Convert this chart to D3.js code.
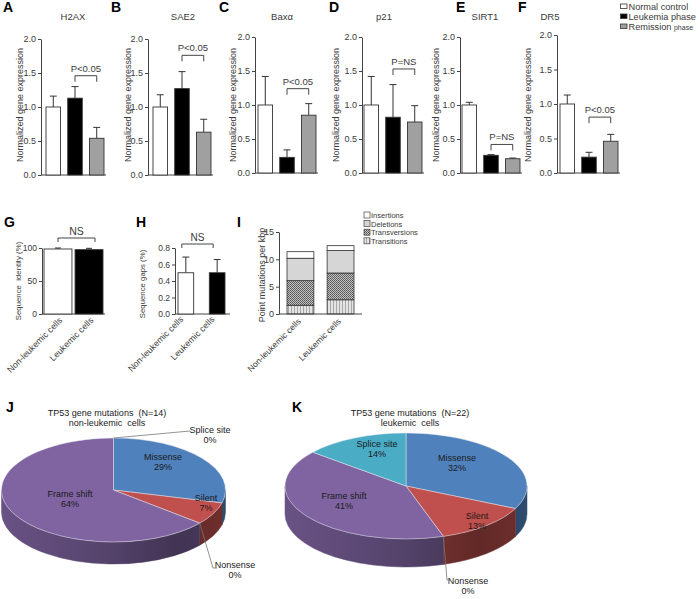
<!DOCTYPE html>
<html><head><meta charset="utf-8">
<script src="https://cdn.jsdelivr.net/npm/d3@7/dist/d3.min.js"></script>
<style>body{margin:0;background:#fff} svg{display:block;font-family:"Liberation Sans",Arial,sans-serif} text{white-space:pre}</style>
</head><body><svg id="c" width="700" height="599"></svg>
<script>
// ---------------- DATA ----------------
const genes = ["H2AX","SAE2","Baxα","p21","SIRT1","DR5"];
const groups = ["Normal control","Leukemia phase","Remission phase"];
const normalMean = [1.0,1.0,1.0,1.0,1.0,1.0];
const normalErr = [0.16,0.18,0.42,0.42,0.04,0.13];
const leukemiaMean = [1.13,1.27,0.23,0.82,0.26,0.23];
const leukemiaErr = [0.17,0.25,0.11,0.48,0.01,0.07];
const remissionMean = [0.54,0.63,0.85,0.75,0.21,0.46];
const remissionErr = [0.16,0.19,0.17,0.24,0.01,0.10];
const pText = ["P<0.05","P<0.05","P<0.05","P=NS","P=NS","P<0.05"];
const pLevel = [1.46,1.76,1.24,1.53,0.42,0.81];
const exprTicks = [0,0.5,1.0,1.5,2.0];

const cellTypes = ["Non-leukemic cells","Leukemic cells"];
const identityMean = [98.5,97.5];
const identityErr = [1.5,2.0];
const identityTicks = [0,50,100];
const gapsMean = [0.50,0.50];
const gapsErr = [0.19,0.16];
const gapsTicks = [0,0.2,0.4,0.6,0.8];
const mutationTypes = ["Transitions","Transversions","Deletions","Insertions"];
const transitions = [1.6,2.6];
const transversions = [4.5,4.9];
const deletions = [4.1,4.1];
const insertions = [1.2,0.9];
const mutationTicks = [0,5,10,15];

const pieCategories = ["Missense","Silent","Nonsense","Frame shift","Splice site"];
const nonLeukemicPct = [29,7,0,64,0];
const leukemicPct = [32,13,0,41,14];

// ---------------- LAYOUT / STYLE ----------------
const svg = d3.select("#c");
svg.append("rect").attr("width",700).attr("height",599).attr("fill","#fff");
const AX = "#444", TX = "#3a3a3a";
const groupFill = ["#ffffff","#000000","#a0a0a0"];
const defs = svg.append("defs");

function styleAxis(sel, fs){
  sel.select(".domain").attr("stroke",AX).attr("stroke-width",1);
  sel.selectAll(".tick line").attr("stroke",AX);
  sel.selectAll(".tick text").attr("fill",TX).attr("font-size",fs).attr("font-family","Liberation Sans, Arial, sans-serif");
}
function letter(t,x,y){
  svg.append("text").attr("x",x).attr("y",y).attr("font-size",14).attr("font-weight","bold").attr("fill","#000").text(t);
}
function yLabel(t,x,yc,fs){
  svg.append("text").attr("transform",`translate(${x},${yc}) rotate(-90)`).attr("text-anchor","middle")
    .attr("dy","0.35em").attr("font-size",fs).attr("fill",TX).text(t);
}
function bracket(x1,x2,yy,drop,label,fs,gap){
  svg.append("path").attr("d",`M${x1},${yy+drop}V${yy}H${x2}V${yy+drop}`).attr("fill","none").attr("stroke",AX).attr("stroke-width",1);
  svg.append("text").attr("x",(x1+x2)/2).attr("y",yy-gap).attr("text-anchor","middle").attr("font-size",fs).attr("fill",TX).text(label);
}
function errBar(cx,y0,y1,cap){
  svg.append("path").attr("d",`M${cx},${y0}V${y1}M${cx-cap},${y1}H${cx+cap}`).attr("stroke","#333").attr("stroke-width",1).attr("fill","none");
}

// ---------------- PANELS A-F ----------------
const barLayout = [
  {L:"A",lx:3,  ax:41, top:39,bottom:175,off:5,tx:73, yl:20},
  {L:"B",lx:111,ax:148,top:39,bottom:175,off:5,tx:183,yl:128},
  {L:"C",lx:219,ax:255,top:37,bottom:173,off:3,tx:282,yl:233},
  {L:"D",lx:329,ax:362,top:37,bottom:173,off:2,tx:384,yl:336},
  {L:"E",lx:456,ax:460,top:37,bottom:173,off:2,tx:485,yl:436},
  {L:"F",lx:518,ax:557,top:35,bottom:173,off:3,tx:550,yl:528}
];
genes.forEach((gene,i)=>{
  const c = barLayout[i];
  const y = d3.scaleLinear().domain([0,2]).range([c.bottom,c.top]);
  const x = d3.scaleBand().domain(groups).range([c.ax+c.off,c.ax+c.off+58]).paddingInner(0.33);
  const means = [normalMean[i],leukemiaMean[i],remissionMean[i]];
  const errs = [normalErr[i],leukemiaErr[i],remissionErr[i]];
  letter(c.L,c.lx,12);
  svg.append("text").attr("x",c.tx).attr("y",20).attr("text-anchor","middle").attr("font-size",9.5).attr("fill",TX).text(gene);
  const ag = svg.append("g").attr("transform",`translate(${c.ax},0)`)
    .call(d3.axisLeft(y).tickValues(exprTicks).tickFormat(d3.format(".1f")).tickSize(3).tickSizeOuter(0).tickPadding(2));
  styleAxis(ag,9);
  svg.append("line").attr("x1",c.ax).attr("x2",c.ax+c.off+60).attr("y1",y(0)).attr("y2",y(0)).attr("stroke",AX);
  groups.forEach((gr,j)=>{
    const cx = x(gr)+x.bandwidth()/2;
    errBar(cx,y(means[j]),y(means[j]+errs[j]),3.5);
    svg.append("rect").attr("x",x(gr)).attr("y",y(means[j])).attr("width",x.bandwidth()).attr("height",y(0)-y(means[j]))
      .attr("fill",groupFill[j]).attr("stroke","#333").attr("stroke-width",0.9);
  });
  bracket(x(groups[1])+x.bandwidth()/2, x(groups[2])+x.bandwidth()/2, y(pLevel[i]), 6, pText[i], 9.5, 4);
  yLabel("Normalized gene expression",c.yl,105,9);
});
// legend top-right
groups.forEach((gr,j)=>{
  const yy = 6 + j*10;
  svg.append("rect").attr("x",620.5).attr("y",yy-2).attr("width",6.5).attr("height",4.5).attr("fill",groupFill[j]).attr("stroke","#333").attr("stroke-width",0.8);
  const t = svg.append("text").attr("x",628.5).attr("y",yy+3.5).attr("font-size",9.2).attr("fill",TX);
  if(gr==="Remission phase"){ t.append("tspan").text("Remission "); t.append("tspan").attr("font-size",7).text("phase"); }
  else t.text(gr);
});

// ---------------- PANEL G ----------------
function xLabels(x,offs,yy,fs){
  cellTypes.forEach((ct,j)=>{
    const cx = x(ct)+x.bandwidth()/2+offs;
    svg.append("text").attr("transform",`translate(${cx},${yy}) rotate(-45)`).attr("text-anchor","end").attr("font-size",fs).attr("fill",TX).text(ct);
  });
}
{
  letter("G",4,227);
  const y = d3.scaleLinear().domain([0,100]).range([314,248]);
  const x = d3.scaleBand().domain(cellTypes).range([44,103]).paddingInner(0.1);
  const ag = svg.append("g").attr("transform","translate(42,0)").call(d3.axisLeft(y).tickValues(identityTicks).tickFormat(d3.format("d")).tickSize(3).tickSizeOuter(0).tickPadding(2));
  styleAxis(ag,8.5);
  svg.append("line").attr("x1",42).attr("x2",105).attr("y1",y(0)).attr("y2",y(0)).attr("stroke",AX);
  cellTypes.forEach((ct,j)=>{
    const cx = x(ct)+x.bandwidth()/2;
    errBar(cx,y(identityMean[j]),y(identityMean[j]+identityErr[j]),3);
    svg.append("rect").attr("x",x(ct)).attr("y",y(identityMean[j])).attr("width",x.bandwidth()).attr("height",y(0)-y(identityMean[j]))
      .attr("fill",groupFill[j]).attr("stroke","#333").attr("stroke-width",0.9);
  });
  bracket(x(cellTypes[0])+x.bandwidth()/2, x(cellTypes[1])+x.bandwidth()/2+6, 238, 4, "NS", 10.5, 3);
  yLabel("Sequence  identity (%)",18,281,7.8);
  xLabels(x,5,321,8.8);
}
// ---------------- PANEL H ----------------
{
  letter("H",136,227);
  const y = d3.scaleLinear().domain([0,0.8]).range([314,248]);
  const x = d3.scaleBand().domain(cellTypes).range([178,225]).paddingInner(0.5);
  const ag = svg.append("g").attr("transform","translate(175,0)").call(d3.axisLeft(y).tickValues(gapsTicks).tickFormat(d3.format(".1f")).tickSize(3).tickSizeOuter(0).tickPadding(2));
  styleAxis(ag,8.5);
  svg.append("line").attr("x1",175).attr("x2",230).attr("y1",y(0)).attr("y2",y(0)).attr("stroke",AX);
  cellTypes.forEach((ct,j)=>{
    const cx = x(ct)+x.bandwidth()/2;
    errBar(cx,y(gapsMean[j]),y(gapsMean[j]+gapsErr[j]),3.5);
    svg.append("rect").attr("x",x(ct)).attr("y",y(gapsMean[j])).attr("width",x.bandwidth()).attr("height",y(0)-y(gapsMean[j]))
      .attr("fill",groupFill[j]).attr("stroke","#333").attr("stroke-width",0.9);
  });
  bracket(x(cellTypes[0])+x.bandwidth()/2-4, x(cellTypes[1])+x.bandwidth()/2-4, 244, 4, "NS", 10, 3);
  yLabel("Sequence gaps (%)",142,284,7.8);
  xLabels(x,-2,320,8.8);
}
// ---------------- PANEL I ----------------
{
  letter("I",237,227);
  const p1 = defs.append("pattern").attr("id","patTransitions").attr("patternUnits","userSpaceOnUse").attr("width",3).attr("height",3);
  p1.append("rect").attr("width",3).attr("height",3).attr("fill","#e4e4e4");
  p1.append("rect").attr("width",1).attr("height",3).attr("fill","#a8a8a8");
  const p2 = defs.append("pattern").attr("id","patTransversions").attr("patternUnits","userSpaceOnUse").attr("width",2).attr("height",2);
  p2.append("rect").attr("width",2).attr("height",2).attr("fill","#c4c4c4");
  p2.append("rect").attr("width",1).attr("height",1).attr("fill","#555");
  p2.append("rect").attr("x",1).attr("y",1).attr("width",1).attr("height",1).attr("fill","#666");
  const typeFill = ["url(#patTransitions)","url(#patTransversions)","#d6d6d6","#ffffff"];
  const y = d3.scaleLinear().domain([0,15]).range([314,232]);
  const x = d3.scaleBand().domain(cellTypes).range([287,354]).paddingInner(0.33);
  const rows = cellTypes.map((ct,j)=>({ct, Transitions:transitions[j], Transversions:transversions[j], Deletions:deletions[j], Insertions:insertions[j]}));
  const stacked = d3.stack().keys(mutationTypes)(rows);
  stacked.forEach((layer,k)=>{
    layer.forEach(d=>{
      svg.append("rect").attr("x",x(d.data.ct)).attr("y",y(d[1])).attr("width",x.bandwidth()).attr("height",y(d[0])-y(d[1]))
        .attr("fill",typeFill[k]).attr("stroke","#333").attr("stroke-width",0.8);
    });
  });
  const ag = svg.append("g").attr("transform","translate(279,0)").call(d3.axisLeft(y).tickValues(mutationTicks).tickFormat(d3.format("d")).tickSize(3).tickSizeOuter(0).tickPadding(2));
  styleAxis(ag,9);
  svg.append("line").attr("x1",279).attr("x2",362).attr("y1",y(0)).attr("y2",y(0)).attr("stroke",AX);
  yLabel("Point mutations per kbp",262,275,9);
  xLabels(x,1,322,8.5);
  mutationTypes.slice().reverse().forEach((t,k)=>{
    const yy = 215 + k*8.6;
    const fi = typeFill[mutationTypes.length-1-k];
    svg.append("rect").attr("x",364).attr("y",yy-3).attr("width",6).attr("height",6).attr("fill",fi).attr("stroke","#444").attr("stroke-width",0.7);
    svg.append("text").attr("x",371).attr("y",yy+3).attr("font-size",7.5).attr("fill",TX).text(t);
  });
}

// ---------------- PIES J, K ----------------
const pieColors = ["#4f81bd","#c0504d","#9bbb59","#8064a2","#4bacc6"];
function drawPie(id, values, cfg){
  const {cx,cy,rx,ry,depth} = cfg;
  const arcs = d3.pie().sort(null).value(d=>d)(values);
  const pt = (a,dy=0)=>[cx+rx*Math.sin(a), cy-ry*Math.cos(a)+dy];
  const g = svg.append("g");
  pieColors.forEach((c,i)=>{
    const gr = defs.append("linearGradient").attr("id",`${id}side${i}`).attr("gradientUnits","userSpaceOnUse")
      .attr("x1",cx-rx).attr("x2",cx+rx).attr("y1",0).attr("y2",0);
    const col = d3.color(c);
    gr.append("stop").attr("offset",0).attr("stop-color",col.darker(0.55));
    gr.append("stop").attr("offset",0.45).attr("stop-color",col.darker(1.1));
    gr.append("stop").attr("offset",0.8).attr("stop-color",col.darker(1.9));
    gr.append("stop").attr("offset",1).attr("stop-color",col.darker(1.5));
  });
  arcs.forEach((a,i)=>{
    if(a.value<=0) return;
    const s = Math.max(a.startAngle,Math.PI/2), e = Math.min(a.endAngle,3*Math.PI/2);
    if(e<=s) return;
    const p0=pt(s),p1=pt(e),q1=pt(e,depth),q0=pt(s,depth);
    g.append("path").attr("d",`M${p0}A${rx},${ry} 0 0 1 ${p1}L${q1}A${rx},${ry} 0 0 0 ${q0}Z`)
      .attr("fill",`url(#${id}side${i})`).attr("stroke",`url(#${id}side${i})`).attr("stroke-width",0.5);
  });
  arcs.forEach((a,i)=>{
    if(a.value<=0) return;
    const p0=pt(a.startAngle),p1=pt(a.endAngle);
    const large = (a.endAngle-a.startAngle)>Math.PI?1:0;
    g.append("path").attr("d",`M${cx},${cy}L${p0}A${rx},${ry} 0 ${large} 1 ${p1}Z`)
      .attr("fill",pieColors[i]).attr("stroke","#e8e8f0").attr("stroke-width",0.6).attr("stroke-opacity",0.8);
  });
  arcs.forEach((a,i)=>{
    const L = cfg.labels[i];
    const t = svg.append("text").attr("text-anchor","middle").attr("font-size",9).attr("fill","#1a1a1a");
    t.append("tspan").attr("x",L[0]).attr("y",L[1]+3).text(pieCategories[i]);
    t.append("tspan").attr("x",L[0]).attr("y",L[1]+13).text(Math.round(a.value)+"%");
    if(a.value<=0){
      const p = pt(a.startAngle);
      const lead = cfg.leaders[i];
      svg.append("path").attr("d",`M${p}L${lead.map(q=>q.join(",")).join("L")}`).attr("fill","none").attr("stroke","#777").attr("stroke-width",0.8);
    }
  });
  svg.append("text").attr("x",cfg.title[0]).attr("y",cfg.title[1]).attr("text-anchor","middle").attr("font-size",9).attr("fill","#222").text(cfg.titleText[0]);
  svg.append("text").attr("x",cfg.title[0]).attr("y",cfg.title[1]+10).attr("text-anchor","middle").attr("font-size",9).attr("fill","#222").text(cfg.titleText[1]);
}
letter("J",6,412);
drawPie("pj", nonLeukemicPct, {cx:113.5,cy:490,rx:112,ry:52,depth:22,
  title:[107,416], titleText:["TP53 gene mutations  (N=14)","non-leukemic  cells"],
  labels:[[163,457],[206,498],[235,565],[70,494],[210,430]],
  leaders:{2:[[213,568],[217,568]],4:[[190,431]]}
});
letter("K",292,412);
drawPie("pk", leukemicPct, {cx:406,cy:486,rx:121,ry:53,depth:28,
  title:[410,416], titleText:["TP53 gene mutations  (N=22)","leukemic  cells"],
  labels:[[457,458],[477,516],[468,581],[344,496],[377,444]],
  leaders:{2:[[447,580],[450,580]]}
});
</script></body></html>
